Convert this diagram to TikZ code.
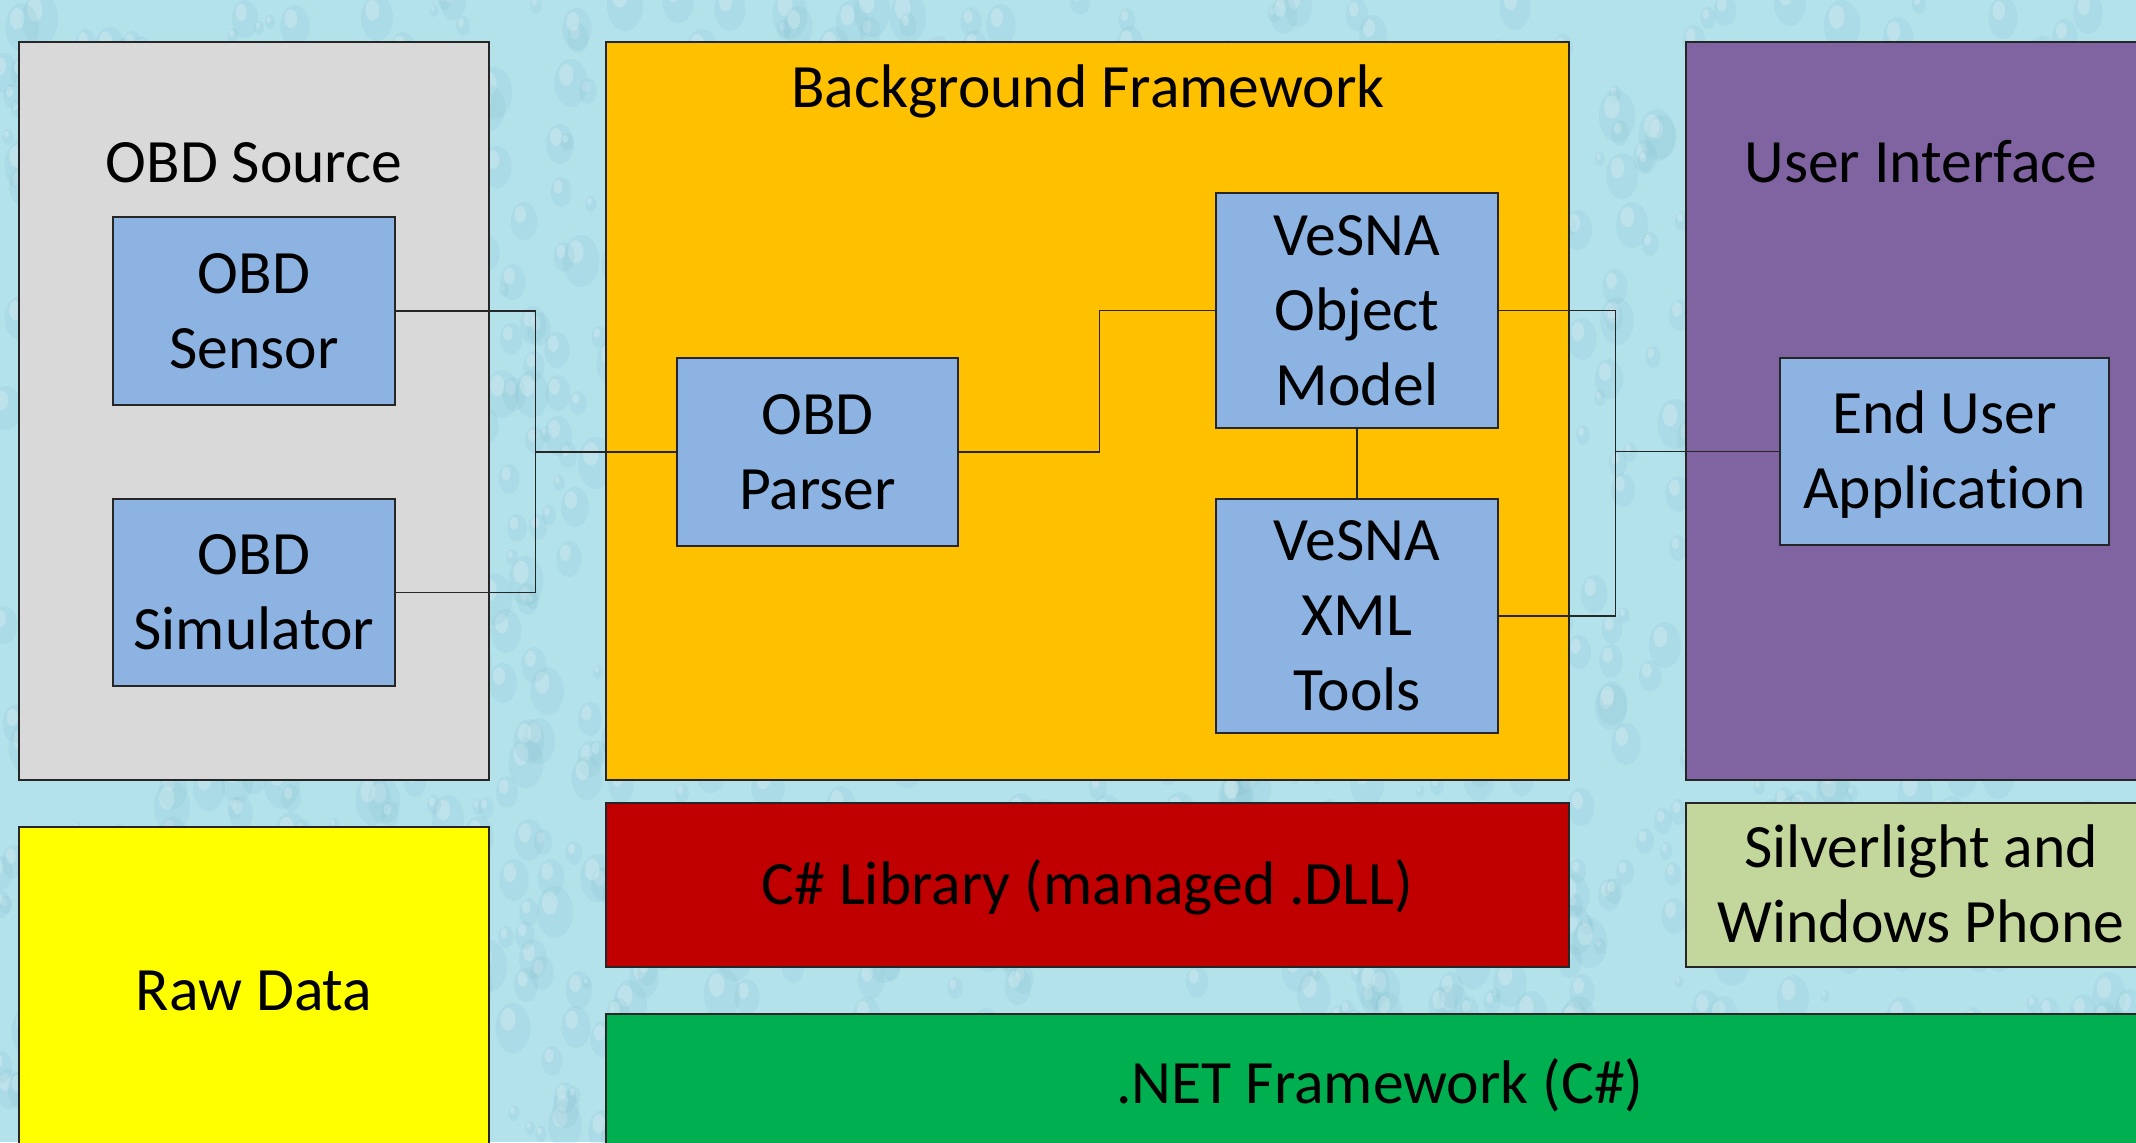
\documentclass[tikz,border=0pt]{standalone}
\usepackage{fontspec}
\setmainfont{Carlito}[Ligatures=NoCommon]

\definecolor{waterbg}{HTML}{B4E2EB}
\definecolor{dropshade}{HTML}{7DBCCD}
\definecolor{srcgrey}{HTML}{D9D9D9}
\definecolor{fwamber}{HTML}{FFC000}
\definecolor{modblue}{HTML}{8DB3E2}
\definecolor{uipurple}{HTML}{8064A2}
\definecolor{libred}{HTML}{C00000}
\definecolor{slolive}{HTML}{C3D69B}
\definecolor{rawyellow}{HTML}{FFFF00}
\definecolor{netgreen}{HTML}{00B050}
\definecolor{edgeline}{HTML}{262626}

% text size used everywhere: 30.8pt on a 37.5pt line pitch
\newcommand{\diagfont}{\fontsize{30.8}{37.5}\selectfont}
% centred lines, box baseline on the last line
\newcommand{\stacked}[1]{\begin{tabular}[b]{@{}c@{}}#1\end{tabular}}

\begin{document}
\begin{tikzpicture}[
  x=0.5pt, y=-0.5pt,
  layer/.style={draw=edgeline, line width=0.7pt, inner sep=0pt, font=\diagfont, text depth=0pt},
  oneline/.style={text height=19.5pt},
  twolines/.style={text height=57pt},
  threelines/.style={text height=94.5pt},
  module/.style={layer, fill=modblue},
  heading/.style={font=\diagfont, inner sep=0pt, anchor=base},
  wire/.style={draw=edgeline, line width=0.7pt},
]
\useasboundingbox (0,0) rectangle (2136,1142);
\clip (0,0) rectangle (2136,1142);

% water-drop backdrop
\fill[waterbg] (0,0) rectangle (2136,1142);
\pgfmathsetseed{4242}
\foreach \i in {1,...,1400}{
  \pgfmathsetmacro{\dx}{random(0,2136)}
  \pgfmathsetmacro{\dy}{random(0,1142)}
  \pgfmathsetmacro{\dr}{random(6,26)}
  \fill[dropshade, opacity=0.16] (\dx,\dy) ellipse [x radius=0.7*\dr, y radius=\dr];
  \fill[white, opacity=0.22] (\dx-0.2*\dr,\dy-0.35*\dr) ellipse [x radius=0.3*\dr, y radius=0.45*\dr];
}

% layers
\node[layer, fill=srcgrey, minimum width=235pt, minimum height=369pt] (source) at (254,411) {};
\node[layer, fill=fwamber, minimum width=481.5pt, minimum height=369pt] (framework) at (1087.5,411) {};
\node[layer, fill=uipurple, minimum width=235pt, minimum height=369pt] (ui) at (1921,411) {};
\node[layer, oneline, fill=rawyellow, minimum width=235pt, minimum height=163.5pt] (raw) at (254,990.5) {Raw Data};
\node[layer, oneline, fill=libred, minimum width=481.5pt, minimum height=82pt] (lib) at (1087.5,885) {C\# Library (managed .DLL)};
\node[layer, twolines, fill=slolive, minimum width=235pt, minimum height=82pt] (silver) at (1921,885) {\stacked{Silverlight and\\Windows Phone}};
\node[layer, oneline, fill=netgreen, minimum width=774pt, minimum height=70pt] (net) at (1380,1084) {.NET Framework (C\#)};

% layer headings
\node[heading] (sourcetitle) at (254,182) {OBD Source};
\node[heading] (fwtitle) at (1088,107) {Background Framework};
\node[heading] (uititle) at (1921,182) {User Interface};

% modules
\node[module, twolines, minimum width=141pt, minimum height=94pt] (sensor) at (254,311) {\stacked{OBD\\Sensor}};
\node[module, twolines, minimum width=141pt, minimum height=93.5pt] (sim) at (254,592.5) {\stacked{OBD\\Simulator}};
\node[module, twolines, minimum width=140.5pt, minimum height=94pt] (parser) at (817.5,452) {\stacked{OBD\\Parser}};
\node[module, threelines, minimum width=141pt, minimum height=117.5pt] (om) at (1357,310.5) {\stacked{VeSNA\\Object\\Model}};
\node[module, threelines, minimum width=141pt, minimum height=117pt] (xml) at (1357,616) {\stacked{VeSNA\\XML\\Tools}};
\node[module, twolines, minimum width=164.5pt, minimum height=93.5pt] (app) at (1944.5,451.5) {\stacked{End User\\Application}};

% connectors
\path (parser.west) -- ++(-141,0) coordinate (lbus);
\draw[wire] (sensor.east) -| (lbus) |- (sim.east);
\draw[wire] (lbus) -- (parser.west);
\draw[wire] (parser.east) -- ++(141,0) |- (om.west);
\draw[wire] (om.south) -- (xml.north);
\path (app.west) -- ++(-164,0) coordinate (rbus);
\draw[wire] (om.east) -| (rbus) |- (xml.east);
\draw[wire] (rbus) -- (app.west);
\end{tikzpicture}
\end{document}
